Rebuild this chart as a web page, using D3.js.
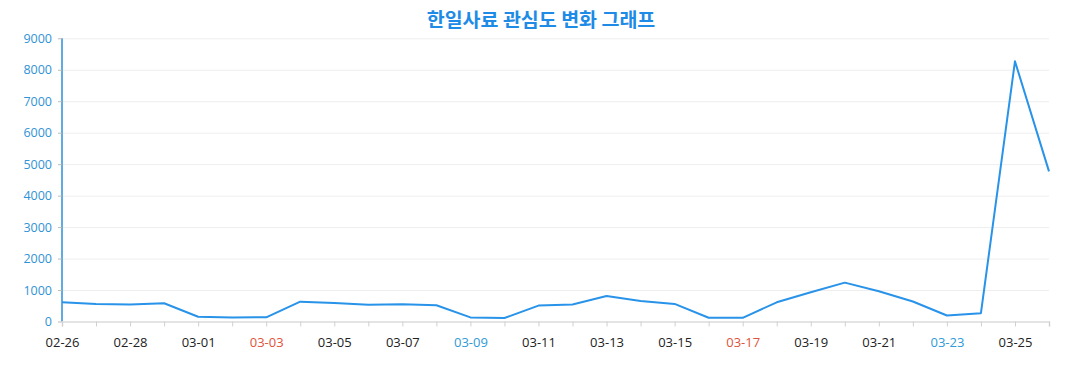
<!DOCTYPE html>
<html><head><meta charset="utf-8">
<script src="https://cdn.jsdelivr.net/npm/d3@7"></script>
<style>
body{margin:0;background:#fff;}
svg{display:block;font-family:"Open Sans","Noto Sans CJK KR",sans-serif;}
</style></head>
<body><svg id="c" width="1077" height="390"></svg>
<script>
const title = "한일사료 관심도 변화 그래프";
const dates = ["02-26","02-27","02-28","02-29","03-01","03-02","03-03","03-04","03-05","03-06","03-07","03-08","03-09","03-10","03-11","03-12","03-13","03-14","03-15","03-16","03-17","03-18","03-19","03-20","03-21","03-22","03-23","03-24","03-25","03-26"];
const values = [610,560,540,580,150,130,132,630,590,530,550,515,130,110,505,540,810,655,560,118,118,610,930,1235,960,635,190,265,8270,4770];
const yTicks = [0,1000,2000,3000,4000,5000,6000,7000,8000,9000];
const redLabels = ["03-03","03-17"];
const blueLabels = ["03-09","03-23"];

(function(){
const svg = d3.select("#c");
const mL = 62, mR = 1049, mT = 38.3, mB = 321.5;
const x = d3.scalePoint().domain(dates).range([mL, mR]);
const y = d3.scaleLinear().domain([0, 9000]).range([mB, mT]);

svg.append("text").attr("x", 541).attr("y", 27).attr("text-anchor","middle")
  .attr("font-family","'Noto Sans CJK KR',sans-serif").attr("font-weight","bold")
  .attr("font-size", 19.5).attr("fill","#1e8be6").text(title);

// grid
svg.append("g").selectAll("line").data(yTicks.slice(1)).join("line")
  .attr("x1", mL).attr("x2", mR).attr("y1", d=>y(d)+0.5).attr("y2", d=>y(d)+0.5)
  .attr("stroke","#eeeeee");

// y axis
const ya = svg.append("g").attr("transform",`translate(${mL},0)`)
  .call(d3.axisLeft(y).tickValues(yTicks).tickFormat(d3.format("d")).tickSize(4).tickPadding(6));
ya.select(".domain").attr("stroke","#2a8fd8").attr("stroke-width",1.5).attr("d",`M0,${mB}V${mT}`);
ya.selectAll(".tick line").attr("stroke","#bbb");
ya.selectAll(".tick text").attr("fill","#2f93d6").attr("font-size",12.5).attr("font-family","'Open Sans',sans-serif");

// x axis
const xa = svg.append("g").attr("transform",`translate(0,${mB})`)
  .call(d3.axisBottom(x).tickSize(5).tickPadding(11));
xa.select(".domain").attr("stroke","#dcdcdc").attr("stroke-width",1.5);
xa.selectAll(".tick line").attr("stroke","#d0d0d0");
xa.selectAll(".tick text")
  .attr("font-size",13).attr("font-family","'Open Sans',sans-serif")
  .attr("fill", d => redLabels.includes(d) ? "#e0533b" : blueLabels.includes(d) ? "#2f9ad6" : "#222")
  .style("display", (d,i) => i % 2 === 0 ? null : "none");

// line
svg.append("path").datum(values)
  .attr("fill","none").attr("stroke","#2893e8").attr("stroke-width",2)
  .attr("stroke-linejoin","round")
  .attr("d", d3.line().x((d,i)=>x(dates[i])).y(d=>y(d)));
})();
</script></body></html>
